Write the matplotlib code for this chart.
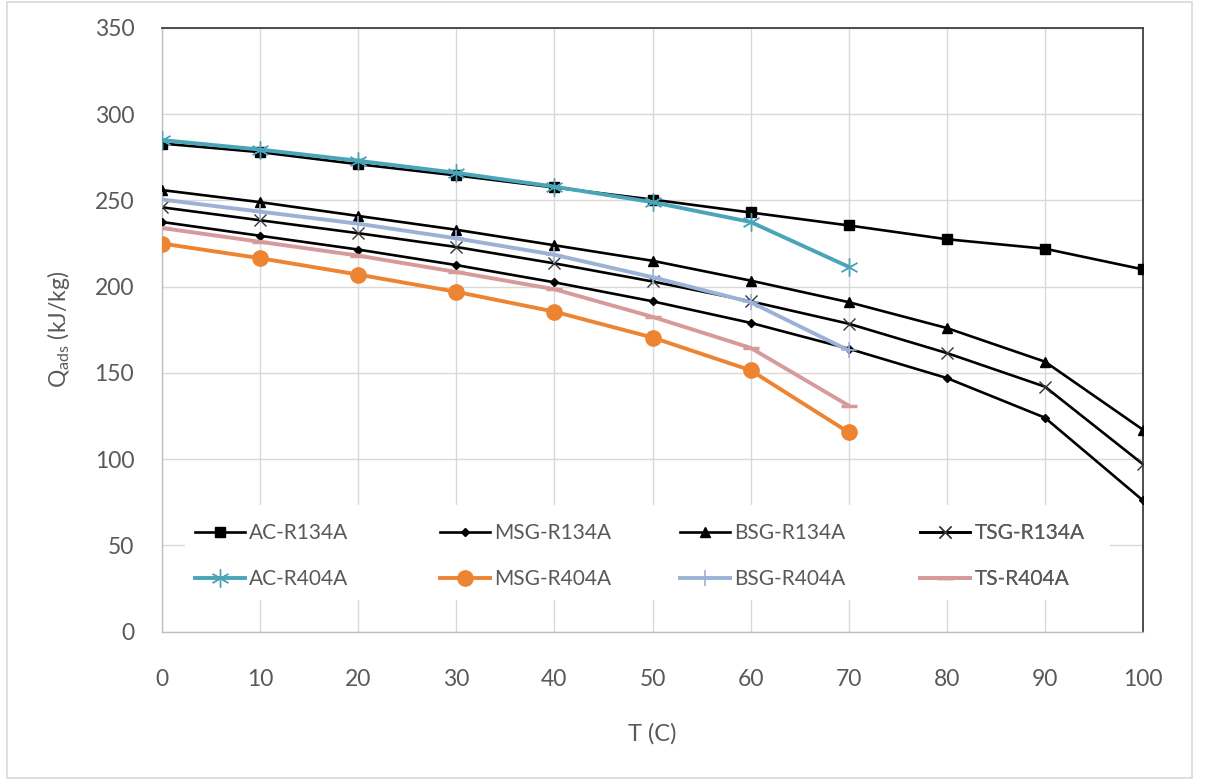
import matplotlib
matplotlib.use("Agg")
import matplotlib.pyplot as plt
from matplotlib.patches import Rectangle

plt.rcParams["font.family"] = ["Lato", "DejaVu Sans"]

# Temperatures (C)
T_R134A = [0, 10, 20, 30, 40, 50, 60, 70, 80, 90, 100]
T_R404A = [0, 10, 20, 30, 40, 50, 60, 70]

# Adsorption heat Q_ads (kJ/kg)
AC_R134A = [283, 278, 271, 264.5, 257.5, 250.5, 243, 235.5, 227.5, 222, 210]
MSG_R134A = [237.5, 229.5, 221.5, 212.5, 202.5, 191.5, 179, 164, 147, 124, 76]
BSG_R134A = [256, 249, 241, 233, 224, 215, 203.5, 191, 176, 156.5, 117]
TSG_R134A = [246, 238.5, 231, 223, 213.5, 203, 191.5, 178.5, 161.5, 142, 97]
AC_R404A = [285, 279.5, 273, 266, 258, 249, 237.5, 211.5]
MSG_R404A = [225, 216.5, 207, 197, 185.5, 170.5, 151.5, 115.5]
BSG_R404A = [250.5, 243.5, 236.5, 228, 218.5, 205.5, 191, 163]
TS_R404A = [234, 226, 218, 208.5, 198.5, 182.5, 164.5, 131]

x_ticks = [0, 10, 20, 30, 40, 50, 60, 70, 80, 90, 100]
y_ticks = [0, 50, 100, 150, 200, 250, 300, 350]

TEXT_GRAY = "#595959"

fig = plt.figure(figsize=(12.06, 7.80), dpi=100)
fig.patch.set_facecolor("white")
fig.add_artist(Rectangle((7 / 1206, 2 / 780), 1185 / 1206, 776 / 780,
                         transform=fig.transFigure, fill=False,
                         edgecolor="#d9d9d9", lw=1.2))

ax = fig.add_axes([162 / 1206, (780 - 631.5) / 780, 981 / 1206, 603.5 / 780])

black = "#000000"
series = [
    (T_R134A, AC_R134A, "AC-R134A", dict(color=black, lw=1.9, marker="s", ms=7.5)),
    (T_R134A, MSG_R134A, "MSG-R134A", dict(color=black, lw=1.9, marker="D", ms=4.5)),
    (T_R134A, BSG_R134A, "BSG-R134A", dict(color=black, lw=1.9, marker="^", ms=6.5)),
    (T_R134A, TSG_R134A, "TSG-R134A", dict(color=black, lw=1.9, marker="x", ms=8,
                                           mew=1.0, mec="#333333")),
    (T_R404A, AC_R404A, "AC-R404A", dict(color="#4aa5b8", lw=2.8, marker=(6, 2, 0),
                                         ms=13, mew=1.0)),
    (T_R404A, MSG_R404A, "MSG-R404A", dict(color="#ec8432", lw=2.8, marker="o", ms=11)),
    (T_R404A, BSG_R404A, "BSG-R404A", dict(color="#9bb2d6", lw=2.8, marker="+", ms=12,
                                           mew=1.2)),
    (T_R404A, TS_R404A, "TS-R404A", dict(color="#d69a9b", lw=2.8, marker="_", ms=12,
                                         mew=2.5)),
]

handles = []
for xs, ys, label, style in series:
    (h,) = ax.plot(xs, ys, label=label, zorder=3, **style)
    handles.append(h)

ax.set_xlim(0, 100)
ax.set_ylim(0, 350)
ax.set_xticks(x_ticks)
ax.set_yticks(y_ticks)
ax.grid(True, color="#d9d9d9", lw=1.0, zorder=0)
ax.set_axisbelow(True)
ax.tick_params(axis="both", length=0, labelsize=16.5, labelcolor=TEXT_GRAY)
ax.tick_params(axis="y", pad=20)
ax.tick_params(axis="x", pad=27)

for side in ("left", "bottom"):
    ax.spines[side].set_color("#bfbfbf")
    ax.spines[side].set_linewidth(1.0)
for side in ("top", "right"):
    ax.spines[side].set_color("#404040")
    ax.spines[side].set_linewidth(1.3)

ax.set_xlabel("T (C)", fontsize=17, color=TEXT_GRAY, labelpad=24)
ax.set_ylabel(r"Q$_{\mathregular{ads}}$ (kJ/kg)", fontsize=16.5, color=TEXT_GRAY,
              labelpad=16)

# White legend area in the lower part of the plot
ax.add_patch(Rectangle((0.023, 0.052), 0.943, 0.158, transform=ax.transAxes,
                       facecolor="white", edgecolor="none", zorder=1))

# Legend laid out as two rows of four evenly spaced entries
col_x = [0.0336, 0.283, 0.528, 0.773]
for c, x0 in enumerate(col_x):
    pair = [handles[c], handles[c + 4]]
    leg = ax.legend(pair, [h.get_label() for h in pair], loc="center left",
                    bbox_to_anchor=(x0, 0.125), frameon=False, fontsize=15,
                    handlelength=2.4, handletextpad=0.2, labelspacing=1.25,
                    borderpad=0.0, borderaxespad=0.0)
    for t in leg.get_texts():
        t.set_color(TEXT_GRAY)
    leg.set_zorder(5)
    ax.add_artist(leg)

fig.savefig("out.png", dpi=100, facecolor="white")
